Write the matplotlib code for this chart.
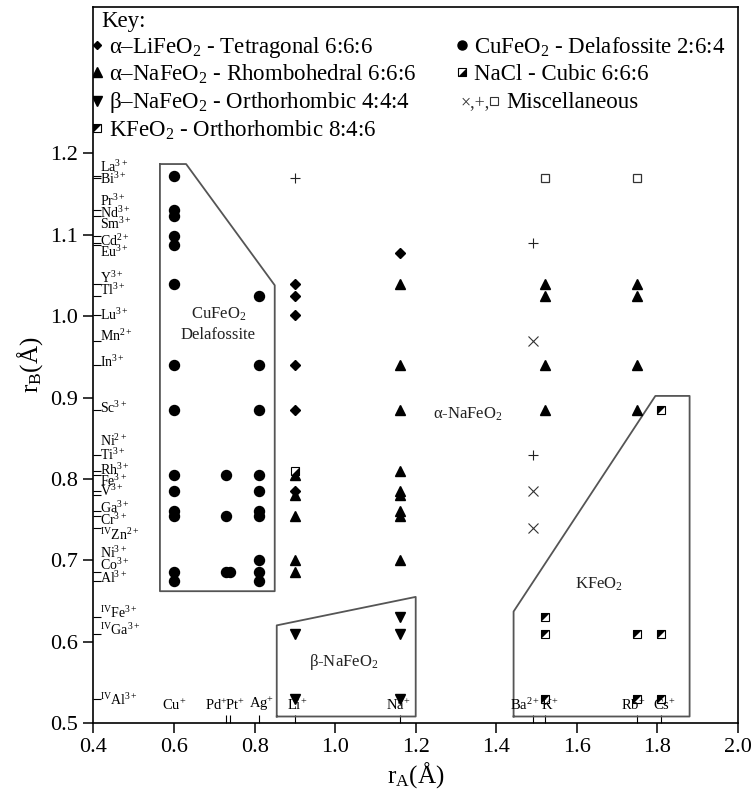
import numpy as np
import matplotlib
matplotlib.use('Agg')
import matplotlib.pyplot as plt

plt.rcParams['font.family'] = ['Liberation Serif', 'DejaVu Sans']
plt.rcParams['mathtext.fontset'] = 'custom'
plt.rcParams['mathtext.rm'] = 'Liberation Serif'
plt.rcParams['mathtext.it'] = 'Liberation Serif:italic'
plt.rcParams['mathtext.bf'] = 'Liberation Serif:bold'

# A-site ions (crystal radii, Angstrom)
a_names = ['Cu$^{+}$', 'Pd$^{+}$', 'Pt$^{+}$', 'Ag$^{+}$', 'Li$^{+}$', 'Na$^{+}$',
           'Ba$^{2+}$', 'K$^{+}$', 'Rb$^{+}$', 'Cs$^{+}$']
a_radii = [0.60, 0.73, 0.74, 0.81, 0.90, 1.16, 1.49, 1.52, 1.75, 1.81]
a_label_dx = [0, -7, 3, 2, 1.5, -0.7, -5.4, 4, -3, 2.5]   # label nudge, points

# B-site ions
b_names = ['La$^{3+}$', 'Bi$^{3+}$', 'Pr$^{3+}$', 'Nd$^{3+}$', 'Sm$^{3+}$', 'Cd$^{2+}$',
           'Eu$^{3+}$', 'Y$^{3+}$', 'Tl$^{3+}$', 'Lu$^{3+}$', 'Mn$^{2+}$', 'In$^{3+}$',
           'Sc$^{3+}$', 'Ni$^{2+}$', 'Ti$^{3+}$', 'Rh$^{3+}$', 'Fe$^{3+}$', 'V$^{3+}$',
           'Ga$^{3+}$', 'Cr$^{3+}$', '$^{\\rm IV}$Zn$^{2+}$', 'Ni$^{3+}$', 'Co$^{3+}$',
           'Al$^{3+}$', '$^{\\rm IV}$Fe$^{3+}$', '$^{\\rm IV}$Ga$^{3+}$', '$^{\\rm IV}$Al$^{3+}$']
b_radii = [1.172, 1.17, 1.13, 1.123, 1.098, 1.09, 1.087, 1.04, 1.025, 1.001, 0.97, 0.94,
           0.885, 0.83, 0.81, 0.805, 0.785, 0.78, 0.76, 0.755, 0.74, 0.70, 0.685,
           0.675, 0.63, 0.61, 0.53]
b_label_dy = [6.5, -1.0, 6.8, 2.2, 9.1, 1.7, -4.7, 3.9, 4.3, 0.4, 3.4, 2.2, 1.4,
              9.9, 11.5, 3.2, 7.0, 2.7, 2.4, -3.0, -5.0, 5.3, 5.2, 1.9, 2.9, 2.2, -1.1]

# CuFeO2 - delafossite (circles)
delaf_rA = [0.60] * 14 + [0.73] * 3 + [0.74] + [0.81] * 10
delaf_rB = [1.172, 1.13, 1.123, 1.098, 1.087, 1.04, 0.94, 0.885, 0.805, 0.785, 0.76, 0.755, 0.685, 0.675,
            0.805, 0.755, 0.685,
            0.685,
            1.025, 0.94, 0.885, 0.805, 0.785, 0.76, 0.755, 0.70, 0.685, 0.675]

# alpha-LiFeO2 (diamonds)
alife_rA = [0.90] * 6 + [1.16]
alife_rB = [1.04, 1.025, 1.001, 0.94, 0.885, 0.785, 1.078]

# alpha-NaFeO2 (up triangles)
anafe_rA = [0.90] * 5 + [1.16] * 9 + [1.52] * 4 + [1.75] * 4
anafe_rB = [0.805, 0.78, 0.755, 0.70, 0.685,
            1.04, 0.94, 0.885, 0.81, 0.785, 0.78, 0.76, 0.755, 0.70,
            1.04, 1.025, 0.94, 0.885,
            1.04, 1.025, 0.94, 0.885]

# beta-NaFeO2 (down triangles)
bnafe_rA = [0.90, 0.90, 1.16, 1.16, 1.16]
bnafe_rB = [0.61, 0.53, 0.63, 0.61, 0.53]

# NaCl rock salt
nacl_rA = [0.90]
nacl_rB = [0.81]

# KFeO2
kfe_rA = [1.52, 1.52, 1.52, 1.75, 1.75, 1.81, 1.81, 1.81]
kfe_rB = [0.63, 0.61, 0.53, 0.61, 0.53, 0.885, 0.61, 0.53]

# miscellaneous
plus_rA = [0.90, 1.49, 1.49]
plus_rB = [1.17, 1.09, 0.83]
cross_rA = [1.49, 1.49, 1.49]
cross_rB = [0.97, 0.785, 0.74]
open_rA = [1.52, 1.75]
open_rB = [1.17, 1.17]

# structure-field outlines
delaf_box_x = [0.565, 0.63, 0.85, 0.85, 0.565, 0.565]
delaf_box_y = [1.187, 1.187, 1.038, 0.662, 0.662, 1.187]
bnafe_box_x = [0.855, 0.855, 1.20, 1.20, 0.855]
bnafe_box_y = [0.508, 0.62, 0.655, 0.508, 0.508]
kfe_box_x = [1.443, 1.443, 1.795, 1.88, 1.88, 1.443]
kfe_box_y = [0.508, 0.637, 0.902, 0.902, 0.508, 0.508]

fig = plt.figure(figsize=(7.55, 7.96), dpi=100)
ax = fig.add_axes([0.1238, 0.0917, 0.8536, 0.8995])
ax.set_xlim(0.4, 2.0)
ax.set_ylim(0.5, 1.38)

box_col = '#555555'
ax.plot(delaf_box_x, delaf_box_y, color=box_col, lw=1.3)
ax.plot(bnafe_box_x, bnafe_box_y, color=box_col, lw=1.3)
ax.plot(kfe_box_x, kfe_box_y, color=box_col, lw=1.3)


def half_square(x, y, corner, ms):
    ax.plot(x, y, ls='none', marker='s', ms=ms, mfc='white', mec='black', mew=0.8)
    if corner == 'ul':
        tri = [(-1, 1), (-1, -1), (1, 1)]
    else:
        tri = [(1, -1), (1, 1), (-1, -1)]
    ax.plot(x, y, ls='none', marker=tri, ms=ms, mfc='black', mec='black', mew=0)


ax.plot(delaf_rA, delaf_rB, 'o', color='black', ms=7.2)
ax.plot(alife_rA, alife_rB, 'D', color='black', ms=4.8)
ax.plot(anafe_rA, anafe_rB, '^', color='black', ms=7.5)
ax.plot(bnafe_rA, bnafe_rB, 'v', color='black', ms=7.5)
half_square(nacl_rA, nacl_rB, 'lr', 6.3)
half_square(kfe_rA, kfe_rB, 'ul', 6.3)
ax.plot(plus_rA, plus_rB, '+', color='#222222', ms=7, mew=0.8)
ax.plot(cross_rA, cross_rB, 'x', color='#333333', ms=6.5, mew=0.8)
ax.plot(open_rA, open_rB, 's', mfc='white', mec='#333333', ms=6.3, mew=0.9)

# region names
ax.text(0.71, 0.99, 'CuFeO$_2$\nDelafossite', ha='center', va='center', fontsize=12,
        color='#222222', linespacing=1.4)
ax.text(1.33, 0.88, 'α-NaFeO$_2$', ha='center', va='center', fontsize=12, color='#222222')
ax.text(1.02, 0.575, 'β-NaFeO$_2$', ha='center', va='center', fontsize=12, color='#222222')
ax.text(1.655, 0.67, 'KFeO$_2$', ha='center', va='center', fontsize=12, color='#222222')

# axes, ticks
ax.set_xticks(np.arange(0.4, 2.01, 0.2))
ax.set_yticks(np.arange(0.5, 1.21, 0.1))
ax.set_xticklabels(['%.1f' % v for v in np.arange(0.4, 2.01, 0.2)])
ax.set_yticklabels(['%.1f' % v for v in np.arange(0.5, 1.21, 0.1)])
ax.set_xticks(a_radii, minor=True)
ax.set_yticks(b_radii, minor=True)
ax.tick_params(which='major', direction='out', length=7, width=1.1, labelsize=16, pad=4)
ax.tick_params(which='minor', direction='in', length=6, width=0.8)
for s in ax.spines.values():
    s.set_linewidth(1.2)

for name, r, dx in zip(a_names, a_radii, a_label_dx):
    ax.annotate(name, xy=(r, 0.5), xytext=(dx, 7), textcoords='offset points',
                ha='center', va='bottom', fontsize=10.5)
for name, r, dy in zip(b_names, b_radii, b_label_dy):
    ax.annotate(name, xy=(0.4, r), xytext=(5, dy), textcoords='offset points',
                ha='left', va='center', fontsize=10)

ax.set_xlabel('r$_{\\rm A}$(Å)', fontsize=18, labelpad=2)
ax.set_ylabel('r$_{\\rm B}$(Å)', fontsize=18, labelpad=4)

# key
key_fs = 16.5
ax.text(0.4186, 1.356, 'Key:', fontsize=key_fs, ha='left', va='baseline')
left_rows = ['α–LiFeO$_2$ - Tetragonal 6:6:6', 'α–NaFeO$_2$ - Rhombohedral 6:6:6',
             'β–NaFeO$_2$ - Orthorhombic 4:4:4', 'KFeO$_2$ - Orthorhombic 8:4:6']
right_rows = ['CuFeO$_2$ - Delafossite 2:6:4', 'NaCl - Cubic 6:6:6']
mark_y = [1.333, 1.300, 1.265, 1.231]
base_y = [1.323, 1.290, 1.256, 1.221]
mx_l, tx_l, mx_r, tx_r = 0.4087, 0.4385, 1.314, 1.344

ax.plot(mx_l, mark_y[0], 'D', color='black', ms=4.2)
ax.plot(mx_l, mark_y[1], '^', color='black', ms=6.5)
ax.plot(mx_l, mark_y[2], 'v', color='black', ms=6.5)
half_square([mx_l], [mark_y[3]], 'ul', 6)
ax.plot(mx_r, mark_y[0], 'o', color='black', ms=6.5)
half_square([mx_r], [mark_y[1]], 'lr', 6)
for t, y in zip(left_rows, base_y):
    ax.text(tx_l, y, t, fontsize=key_fs, ha='left', va='baseline')
for t, y in zip(right_rows, base_y):
    ax.text(tx_r, y, t, fontsize=key_fs, ha='left', va='baseline')
ax.text(1.312, base_y[2], '×,+,', fontsize=13, ha='left', va='baseline', color='#333333')
ax.plot(1.395, mark_y[2], 's', mfc='white', mec='#333333', ms=5.5, mew=0.8)
ax.text(1.425, base_y[2], 'Miscellaneous', fontsize=key_fs, ha='left', va='baseline')

fig.savefig('out.png', dpi=100)
